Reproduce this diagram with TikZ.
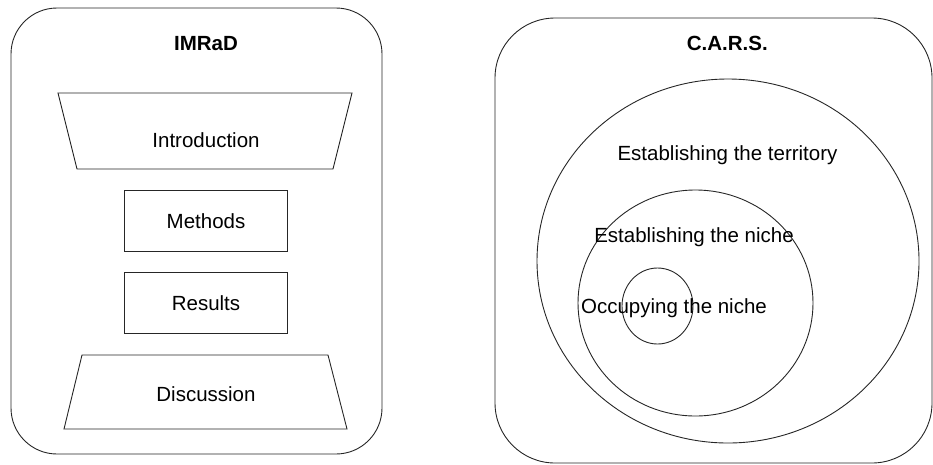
\documentclass[tikz,border=0pt]{standalone}
\usepackage{fontspec}
\setmainfont{Liberation Sans}
\begin{document}
\begin{tikzpicture}[x=1pt,y=-1pt,
  shape line/.style={draw=black!85, line width=0.9pt},
  label text/.style={font=\fontsize{20.5}{24}\selectfont, inner sep=0pt, anchor=base},
  title text/.style={label text, font=\fontsize{20.5}{24}\selectfont\bfseries}]
\useasboundingbox (0,0) rectangle (933,464);
% IMRaD panel
\draw[shape line, rounded corners=46pt] (11,8) rectangle (382,454);
\node[title text] (imrad) at (206,50.7) {IMRaD};
\draw[shape line] (58,93) -- (352,93) -- (333,169) -- (77,169) -- cycle;
\node[label text] (intro) at (206,147.7) {Introduction};
\draw[shape line] (124,190) rectangle (287,251);
\node[label text] (methods) at (206,228) {Methods};
\draw[shape line] (124,272) rectangle (287,333);
\node[label text] (results) at (206,310.7) {Results};
\draw[shape line] (82,355) -- (328,355) -- (347,429) -- (64,429) -- cycle;
\node[label text] (disc) at (206,401.7) {Discussion};
% C.A.R.S. panel
\draw[shape line, rounded corners=60pt] (495,18) rectangle (932,463);
\node[title text] (cars) at (727.3,50.7) {C.A.R.S.};
\draw[shape line] (728,261) ellipse [x radius=191, y radius=182];
\draw[shape line] (695.5,303) ellipse [x radius=117.5, y radius=113];
\draw[shape line] (657.5,306) ellipse [x radius=35.5, y radius=38];
\node[label text] (terr) at (727.5,160) {Establishing the territory};
\node[label text] (niche) at (694,242) {Establishing the niche};
\node[label text] (occ) at (674,313) {Occupying the niche};
\end{tikzpicture}
\end{document}
